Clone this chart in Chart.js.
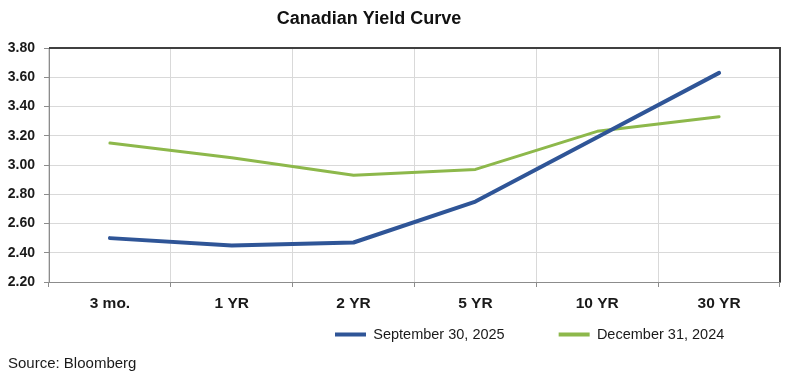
<!DOCTYPE html>
<html>
<head>
<meta charset="utf-8">
<script src="https://cdn.jsdelivr.net/npm/chart.js@4/dist/chart.umd.min.js"></script>
<style>
  html, body { margin: 0; padding: 0; background: #ffffff; }
  #wrap { position: relative; width: 791px; height: 373px; overflow: hidden; }
  #c { position: absolute; left: 0; top: 0; }
  #source { position: absolute; left: 8px; top: 354px; font-family: "Liberation Sans", Arial, sans-serif; font-size: 15px; color: #1a1a1a; white-space: nowrap; line-height: 18px; }
</style>
</head>
<body>
<div id="wrap">
  <canvas id="c" width="791" height="373"></canvas>
  <div id="source">Source: Bloomberg</div>
</div>
<script>
const chartTitle = "Canadian Yield Curve";
const categories = ["3 mo.", "1 YR", "2 YR", "5 YR", "10 YR", "30 YR"];
const seriesNames = ["September 30, 2025", "December 31, 2024"];
const sep2025 = [2.50, 2.45, 2.47, 2.75, 3.19, 3.63];
const dec2024 = [3.15, 3.05, 2.93, 2.97, 3.23, 3.33];
const yTicks = [2.20, 2.40, 2.60, 2.80, 3.00, 3.20, 3.40, 3.60, 3.80];

const BLUE = "#2F5597";
const GREEN = "#8DB84B";

const LEGEND_PAD = 54;
const LEGEND_FONT = 14.5;
const LEGEND_X0 = 335;
const LEGEND_YC = 334.5;

const framePlugin = {
  id: "frame",
  afterLayout(chart) {
    const t = chart.titleBlock;
    if (t) { t.left -= 21; t.right -= 21; }
    const lg = chart.legend;
    if (lg && !lg._placed) {
      lg._placed = true;
      const orig = lg.draw.bind(lg);
      lg.draw = function (area) {
        const ctx = this.ctx;
        const x0u = (this.left + LEGEND_PAD + this.right - this.lineWidths[0]) / 2;
        const yc = this.top + LEGEND_PAD + LEGEND_FONT / 2;
        const saved = { left: this.left, right: this.right, bottom: this.bottom };
        this.left -= 1000; this.right += 1000; this.bottom += 200;
        ctx.save();
        ctx.translate(LEGEND_X0 - x0u, LEGEND_YC - yc);
        orig(area);
        ctx.restore();
        Object.assign(this, saved);
      };
    }
  },
  afterDatasetsDraw(chart) {
    const a = chart.chartArea;
    const ctx = chart.ctx;
    ctx.save();
    ctx.strokeStyle = "#404040";
    ctx.lineWidth = 2;
    ctx.beginPath();
    ctx.moveTo(a.left, a.top);
    ctx.lineTo(a.right, a.top);
    ctx.lineTo(a.right, a.bottom);
    ctx.stroke();
    ctx.restore();
  }
};

new Chart(document.getElementById("c"), {
  type: "line",
  data: {
    labels: categories,
    datasets: [
      { label: seriesNames[0], data: sep2025, borderColor: BLUE, backgroundColor: BLUE, borderWidth: 4, pointRadius: 0, tension: 0, borderCapStyle: "round", borderJoinStyle: "round" },
      { label: seriesNames[1], data: dec2024, borderColor: GREEN, backgroundColor: GREEN, borderWidth: 3, pointRadius: 0, tension: 0, borderCapStyle: "round", borderJoinStyle: "round" }
    ]
  },
  options: {
    responsive: false,
    animation: false,
    devicePixelRatio: 1,
    layout: { padding: { left: 0, right: 11, top: 0, bottom: 19 } },
    plugins: {
      title: {
        display: true,
        text: chartTitle,
        color: "#111111",
        font: { family: "Liberation Sans", size: 18, weight: "bold" },
        padding: { top: 8, bottom: 18.4 }
      },
      legend: {
        display: true,
        position: "bottom",
        maxHeight: 40,
        labels: {
          boxWidth: 31,
          boxHeight: 4,
          padding: LEGEND_PAD,
          color: "#1a1a1a",
          font: { family: "Liberation Sans", size: LEGEND_FONT },
          generateLabels(chart) {
            return chart.data.datasets.map((ds, i) => ({
              text: ds.label, fillStyle: ds.borderColor, strokeStyle: ds.borderColor,
              lineWidth: 0, hidden: false, datasetIndex: i, fontColor: "#1a1a1a"
            }));
          }
        }
      },
      tooltip: { enabled: false }
    },
    scales: {
      x: {
        offset: true,
        grid: { display: true, offset: true, color: "#d9d9d9", tickColor: "#8c8c8c", tickLength: 5, drawTicks: true },
        border: { display: true, color: "#8c8c8c", width: 1 },
        ticks: { color: "#1a1a1a", font: { family: "Liberation Sans", size: 15.5, weight: "bold" }, padding: 7, maxRotation: 0 },
        afterFit(scale) { scale.height = 32; }
      },
      y: {
        min: 2.2,
        max: 3.8,
        afterBuildTicks(scale) { scale.ticks = yTicks.map(v => ({ value: v })); },
        grid: { color: "#d9d9d9", tickColor: "#8c8c8c", tickLength: 5, drawTicks: true },
        border: { display: true, color: "#8c8c8c", width: 1 },
        ticks: { color: "#1a1a1a", font: { family: "Liberation Sans", size: 14, weight: "bold" }, padding: 9, callback: v => Number(v).toFixed(2) },
        afterFit(scale) { scale.width = 49; }
      }
    }
  },
  plugins: [framePlugin]
});
</script>
</body>
</html>
